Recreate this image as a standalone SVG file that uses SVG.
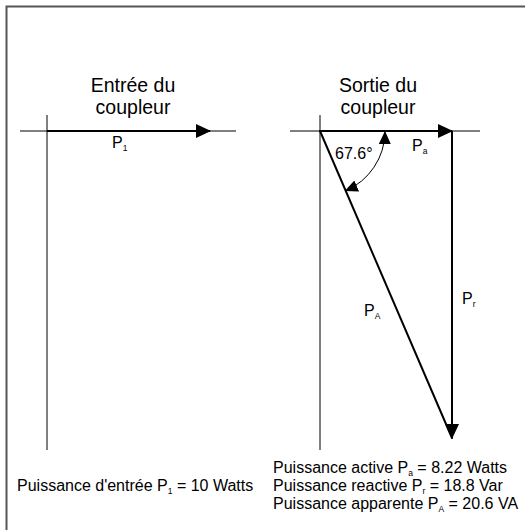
<svg xmlns="http://www.w3.org/2000/svg" width="525" height="530" viewBox="0 0 525 530">
<style>
text{font-family:"Liberation Sans",Arial,sans-serif;fill:#000}
.t{font-size:19.5px;text-anchor:middle}
.l{font-size:16px}
.b{font-size:16px}
.s{font-size:8.5px}
.ax{stroke:#000;stroke-width:1;fill:none}
.v{stroke:#000;stroke-width:2;fill:none}
</style>
<defs>
<marker id="ah" markerWidth="14" markerHeight="12" refX="12" refY="6" orient="auto-start-reverse" markerUnits="userSpaceOnUse"><path d="M0,0 L13,6 L0,12 z" fill="#000"/></marker>
<marker id="ah2" markerWidth="16" markerHeight="14" refX="14" refY="7" orient="auto" markerUnits="userSpaceOnUse"><path d="M0,0 L15,7 L0,14 z" fill="#000"/></marker>
</defs>
<rect x="6.5" y="6.5" width="530" height="530" fill="#fff" stroke="#555" stroke-width="2"/>
<g id="title-left"><text class="t" x="133" y="92">Entrée du</text><text class="t" x="133" y="114">coupleur</text></g>
<g id="title-right"><text class="t" x="378" y="92">Sortie du</text><text class="t" x="378" y="114">coupleur</text></g>
<g id="axes-left"><line class="ax" x1="20" y1="131" x2="236" y2="131"/><line class="ax" x1="47" y1="115" x2="47" y2="450"/></g>
<g id="axes-right"><line class="ax" x1="290" y1="131" x2="480" y2="131"/><line class="ax" x1="320" y1="115" x2="320" y2="450"/></g>
<g id="connectors">
<line class="v" x1="47" y1="131" x2="210" y2="131" marker-end="url(#ah2)"/>
<line class="v" x1="320" y1="131" x2="452" y2="131" marker-end="url(#ah2)"/>
<line class="v" x1="452" y1="131" x2="452" y2="438" marker-end="url(#ah2)"/>
<line class="v" x1="320" y1="131" x2="452" y2="438" stroke-linecap="round"/>
<path d="M385,132 A65,65 0 0 1 345.7,190.7" class="ax" marker-start="url(#ah)" marker-end="url(#ah)" stroke-width="1.2"/>
</g>
<g id="label-p1"><text class="l" x="112" y="148">P<tspan class="s" dy="3">1</tspan></text></g>
<g id="label-pa"><text class="l" x="412" y="151">P<tspan class="s" dy="3">a</tspan></text></g>
<g id="label-pr"><text class="l" x="462" y="304">P<tspan class="s" dy="3">r</tspan></text></g>
<g id="label-pA"><text class="l" x="364" y="316">P<tspan class="s" dy="3">A</tspan></text></g>
<g id="label-angle"><text class="l" x="335" y="159">67.6°</text></g>
<g id="legend-left"><text class="b" x="17" y="491">Puissance d'entrée P<tspan class="s" dy="3">1</tspan><tspan dy="-3"> = 10 Watts</tspan></text></g>
<g id="legend-right">
<text class="b" x="273" y="473">Puissance active P<tspan class="s" dy="3">a</tspan><tspan dy="-3"> = 8.22 Watts</tspan></text>
<text class="b" x="273" y="491">Puissance reactive P<tspan class="s" dy="3">r</tspan><tspan dy="-3"> = 18.8 Var</tspan></text>
<text class="b" x="273" y="509">Puissance apparente P<tspan class="s" dy="3">A</tspan><tspan dy="-3"> = 20.6 VA</tspan></text>
</g>
</svg>
